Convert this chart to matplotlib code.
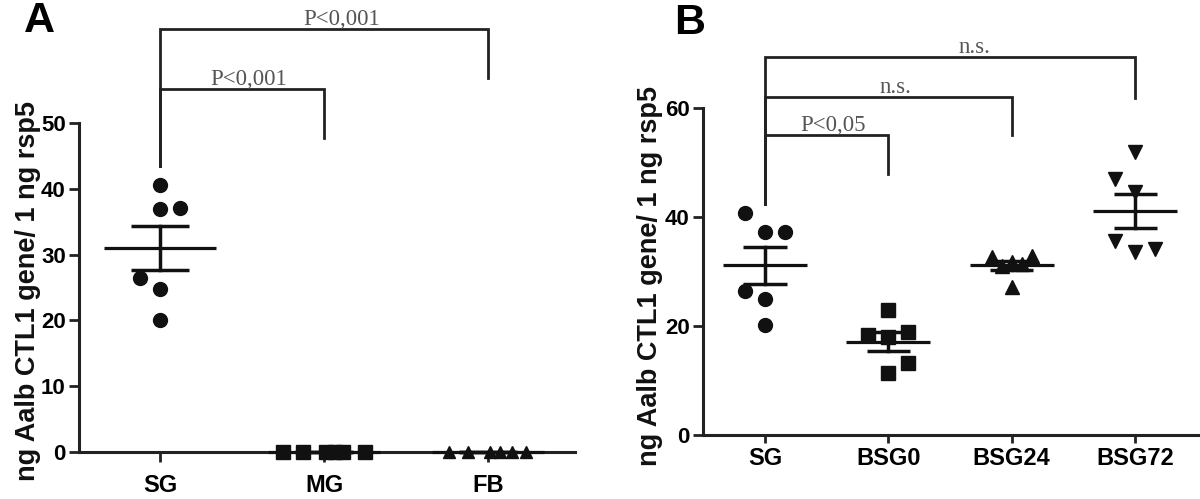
import matplotlib
matplotlib.use('Agg')
import matplotlib.pyplot as plt
import numpy as np

plt.rcParams['font.family'] = ['Liberation Sans', 'DejaVu Sans']

# ---------------- data ----------------
# Panel A
a_categories = ['SG', 'MG', 'FB']
a_sg = [40.6, 36.9, 37.1, 26.4, 24.8, 20.1]
a_mg = [0, 0, 0, 0, 0, 0]
a_fb = [0, 0, 0, 0, 0, 0]
a_yticks = [0, 10, 20, 30, 40, 50]
a_comparisons = [(0, 1, 'P<0,001'), (0, 2, 'P<0,001')]

# Panel B
b_categories = ['SG', 'BSG0', 'BSG24', 'BSG72']
b_sg = [40.7, 37.2, 37.2, 26.5, 25.0, 20.1]
b_bsg0 = [22.9, 18.3, 18.9, 18.0, 13.2, 11.4]
b_bsg24 = [32.7, 32.8, 31.8, 31.3, 31.0, 27.2]
b_bsg72 = [51.9, 47.0, 44.6, 35.6, 33.6, 34.1]
b_yticks = [0, 20, 40, 60]
b_comparisons = [(0, 1, 'P<0,05'), (0, 2, 'n.s.'), (0, 3, 'n.s.')]

ylabel_text = 'ng Aalb CTL1 gene/ 1 ng rsp5'

# ---------------- layout / style ----------------
# horizontal scatter spread, in marker steps (layout only)
a_jitter = [[0, 0, 1, -1, 0, 0],
            [-2.05, -1.05, 0.1, 0.55, 0.95, 2.05],
            [-1.95, -1.0, 0.1, 0.6, 1.2, 1.9]]
b_jitter = [[-1, 0, 1, -1, 0, 0],
            [0, -1, 1, 0, 1, 0],
            [-1, 1, 0, 0.5, -0.5, 0],
            [0, -1, 0, -1, 0, 1]]
a_markers = [('o', 10), ('s', 9.5), ('^', 8)]
b_markers = [('o', 10), ('s', 9.5), ('^', 9.5), ('v', 9.5)]

a_bracket_start = 43.5
a_bracket_tops = [55.2, 64.3]
a_bracket_ends = [47.7, 56.8]
a_label_x = [0.54, 1.11]

b_bracket_start = 42.4
b_bracket_tops = [55.0, 62.0, 69.4]
b_bracket_ends = [47.9, 55.0, 61.8]
b_label_x = [0.55, 1.06, 1.70]

W, H = 1200, 499
fig = plt.figure(figsize=(W / 100, H / 100), dpi=100)

INK = '#111111'
LINE = '#222222'


def px_box(left, right, bottom, top):
    return [left / W, 1 - bottom / H, (right - left) / W, (bottom - top) / H]


def draw_panel(ax, cats, groups, jitters, markers, yticks, ymax, xlim,
               comps, start, tops, ends, label_x, tick_fs, xpad, xtick_len, text_fs):
    ax.set_xlim(*xlim)
    ax.set_ylim(0, ymax)
    ax_w_px = ax.get_position().width * W
    step = 20 * (xlim[1] - xlim[0]) / ax_w_px
    for i, (vals, jit, (mk, ms)) in enumerate(zip(groups, jitters, markers)):
        xs = i + np.array(jit) * step
        ax.plot(xs, vals, linestyle='none', marker=mk, ms=ms, color=INK,
                mec=INK, zorder=4, clip_on=False)
        m = np.mean(vals)
        sem = np.std(vals, ddof=1) / np.sqrt(len(vals))
        ax.plot([i - 0.34, i + 0.34], [m, m], color=INK, lw=2.3, zorder=5,
                solid_capstyle='butt', clip_on=False)
        for v in (m - sem, m + sem):
            ax.plot([i - 0.175, i + 0.175], [v, v], color=INK, lw=2.5, zorder=5,
                    solid_capstyle='butt', clip_on=False)
        ax.plot([i, i], [m - sem, m + sem], color=INK, lw=2.5, zorder=5, clip_on=False)
    for (g0, g1, lab), top, end, lx in zip(comps, tops, ends, label_x):
        ax.plot([g0, g0, g1, g1], [start, top, top, end], color=LINE, lw=2.0,
                solid_joinstyle='miter', clip_on=False, zorder=3)
        ax.annotate(lab, (lx, top), xytext=(0, 3), textcoords='offset points',
                    ha='center', va='baseline', fontsize=text_fs, color='#555555',
                    family=['Liberation Serif', 'DejaVu Serif'], annotation_clip=False)
    for s in ('top', 'right'):
        ax.spines[s].set_visible(False)
    for s in ('left', 'bottom'):
        ax.spines[s].set_linewidth(2.2)
        ax.spines[s].set_color(LINE)
    ax.spines['left'].set_bounds(0, yticks[-1])
    ax.set_yticks(yticks)
    ax.set_yticklabels([str(t) for t in yticks], fontsize=tick_fs, fontweight='bold')
    ax.set_xticks(range(len(cats)))
    ax.set_xticklabels(cats, fontsize=17, fontweight='bold')
    ax.tick_params(axis='y', direction='out', length=7, width=2, color=LINE, pad=2.5)
    ax.tick_params(axis='x', direction='out', length=xtick_len, width=2, color=LINE, pad=xpad)
    ax.patch.set_visible(False)


axA = fig.add_axes(px_box(79, 575, 452, 0))
draw_panel(axA, a_categories, [a_sg, a_mg, a_fb], a_jitter, a_markers, a_yticks,
           452 / 6.58, (-0.494, 2.53), a_comparisons, a_bracket_start,
           a_bracket_tops, a_bracket_ends, a_label_x, 16, 9, 7, 16.5)

axB = fig.add_axes(px_box(703, 1198, 435, 0))
draw_panel(axB, b_categories, [b_sg, b_bsg0, b_bsg24, b_bsg72], b_jitter, b_markers,
           b_yticks, 435 / 5.45, (-0.503, 3.51), b_comparisons, b_bracket_start,
           b_bracket_tops, b_bracket_ends, b_label_x, 16, 2.5, 6, 16.5)

fig.text(28 / W, 1 - 291 / H, ylabel_text, rotation=90, ha='center', va='center',
         fontsize=19.5, fontweight='bold', color=INK)
fig.text(650 / W, 1 - 276 / H, ylabel_text, rotation=90, ha='center', va='center',
         fontsize=19.5, fontweight='bold', color=INK)

fig.text(39 / W, 1 - 1 / H, 'A', ha='center', va='top', fontsize=31, fontweight='bold', color='black')
fig.text(690 / W, 1 - 3 / H, 'B', ha='center', va='top', fontsize=31, fontweight='bold', color='black')

fig.savefig('out.png', dpi=100)
